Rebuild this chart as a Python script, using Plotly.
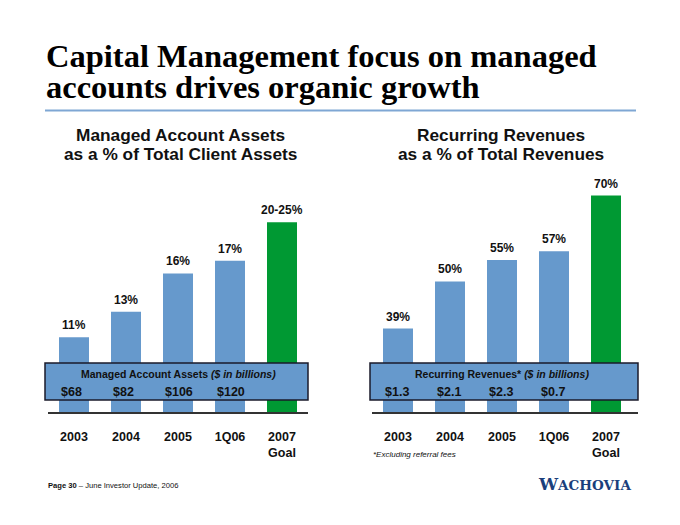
import plotly.graph_objects as go

# ---------------- data ----------------
categories = ["2003", "2004", "2005", "1Q06", "2007<br>Goal"]
left_pct = [11, 13, 16, 17, 20]            # goal bar drawn at lower bound of 20-25%
left_labels = ["11%", "13%", "16%", "17%", "20-25%"]
left_assets = ["$68", "$82", "$106", "$120"]

right_pct = [39, 50, 55, 57, 70]
right_labels = ["39%", "50%", "55%", "57%", "70%"]
right_revenues = ["$1.3", "$2.1", "$2.3", "$0.7"]

# ---------------- style ----------------
W, H = 680, 525
BLUE = "#6699CC"
GREEN = "#009933"
DARK = "#111111"
SANS = "Liberation Sans, Arial, sans-serif"
SERIF = "Liberation Serif, Times New Roman, serif"
BAR_W = 30 / 52


def py(p):
    return 1 - p / H


def px(p):
    return p / W


def pa(x, y, text, size, family=SANS, weight="normal", xanchor="center", color=DARK, **kw):
    return dict(x=px(x), y=py(y), xref="paper", yref="paper", text=text,
                showarrow=False, xanchor=xanchor, yanchor="middle",
                font=dict(family=family, size=size, color=color, weight=weight), **kw)


colors = [BLUE] * 4 + [GREEN]
xs = list(range(len(categories)))

fig = go.Figure()
fig.add_trace(go.Bar(x=xs, y=left_pct, marker_color=colors, width=BAR_W,
                     marker_line_width=0, xaxis="x", yaxis="y", hoverinfo="skip"))
fig.add_trace(go.Bar(x=xs, y=right_pct, marker_color=colors, width=BAR_W,
                     marker_line_width=0, xaxis="x2", yaxis="y2", hoverinfo="skip"))

ann = []
shapes = []

# value labels above bars
for xr, yr, vals, labs in [("x", "y", left_pct, left_labels), ("x2", "y2", right_pct, right_labels)]:
    for i, (v, t) in enumerate(zip(vals, labs)):
        ann.append(dict(x=i, y=v, xref=xr, yref=yr, text=t, showarrow=False,
                        xanchor="center", yanchor="bottom", yshift=3,
                        font=dict(family=SANS, size=12, color=DARK, weight="bold")))

# bands
for x0, x1 in [(45, 308), (370, 638)]:
    shapes.append(dict(type="rect", xref="paper", yref="paper",
                       x0=px(x0), x1=px(x1), y0=py(400), y1=py(363),
                       fillcolor=BLUE, line=dict(color="#1a1a2a", width=1.5), layer="above"))

ann.append(pa(178, 374, "Managed Account Assets <i>($ in billions)</i>", 10.5, weight="bold"))
ann.append(pa(502, 374, "Recurring Revenues* <i>($ in billions)</i>", 10.5, weight="bold"))
for xr, vals in [("x", left_assets), ("x2", right_revenues)]:
    for i, t in enumerate(vals):
        ann.append(dict(x=i - BAR_W / 2, y=py(392), xref=xr, yref="paper", text=t,
                        showarrow=False, xanchor="left", yanchor="middle",
                        font=dict(family=SANS, size=12.5, color=DARK, weight="bold")))

# title
ann.append(pa(44, 56, "Capital Management focus on managed", 32.5, family=SERIF,
              weight="bold", xanchor="left", color="#000000"))
ann.append(pa(44, 87.5, "accounts drives organic growth", 32.5, family=SERIF,
              weight="bold", xanchor="left", color="#000000"))
shapes.append(dict(type="line", xref="paper", yref="paper",
                   x0=px(45), x1=px(636), y0=py(110.5), y1=py(110.5),
                   line=dict(color="#7FA7D4", width=2)))

# subtitles
for cx, l1, l2 in [(180, "Managed Account Assets", "as a % of Total Client Assets"),
                   (501, "Recurring Revenues", "as a % of Total Revenues")]:
    ann.append(pa(cx, 135, l1, 17.3, weight="bold"))
    ann.append(pa(cx, 154, l2, 17.3, weight="bold"))

# footnote & footer
ann.append(pa(371, 454, "<i>*Excluding referral fees</i>", 8, xanchor="left"))
ann.append(pa(46, 485, "<b>Page 30</b> – June Investor Update, 2006", 7.6, xanchor="left"))
ann.append(pa(633, 484, "W<span style='font-size:13.5px'>ACHOVIA</span>", 17,
              family="DejaVu Serif, serif", weight="bold", xanchor="right", color="#1B3F7C"))

axis_common = dict(tickvals=xs, ticktext=categories, showgrid=False, zeroline=False,
                   showline=True, linecolor="#333333", linewidth=2, ticks="",
                   ticklabelstandoff=12,
                   tickfont=dict(family=SANS, size=12.5, color=DARK, weight="bold"))
yaxis_common = dict(visible=False, showgrid=False, zeroline=False,
                    domain=[py(412), py(180)])

fig.update_layout(
    width=W, height=H, margin=dict(l=0, r=0, t=0, b=0),
    paper_bgcolor="white", plot_bgcolor="rgba(0,0,0,0)",
    showlegend=False,
    xaxis=dict(domain=[px(48), px(308)], range=[-0.5, 4.5], anchor="y", **axis_common),
    yaxis=dict(range=[5.157, 23.31], anchor="x", **yaxis_common),
    xaxis2=dict(domain=[px(372), px(638)], range=[-0.5, 4.5 + 6 / 52], anchor="y2", **axis_common),
    yaxis2=dict(range=[19.57, 73.62], anchor="x2", **yaxis_common),
    annotations=ann, shapes=shapes,
)

fig.write_html("out.html", config={"displayModeBar": False},
               post_script="document.body.style.margin='0';")
